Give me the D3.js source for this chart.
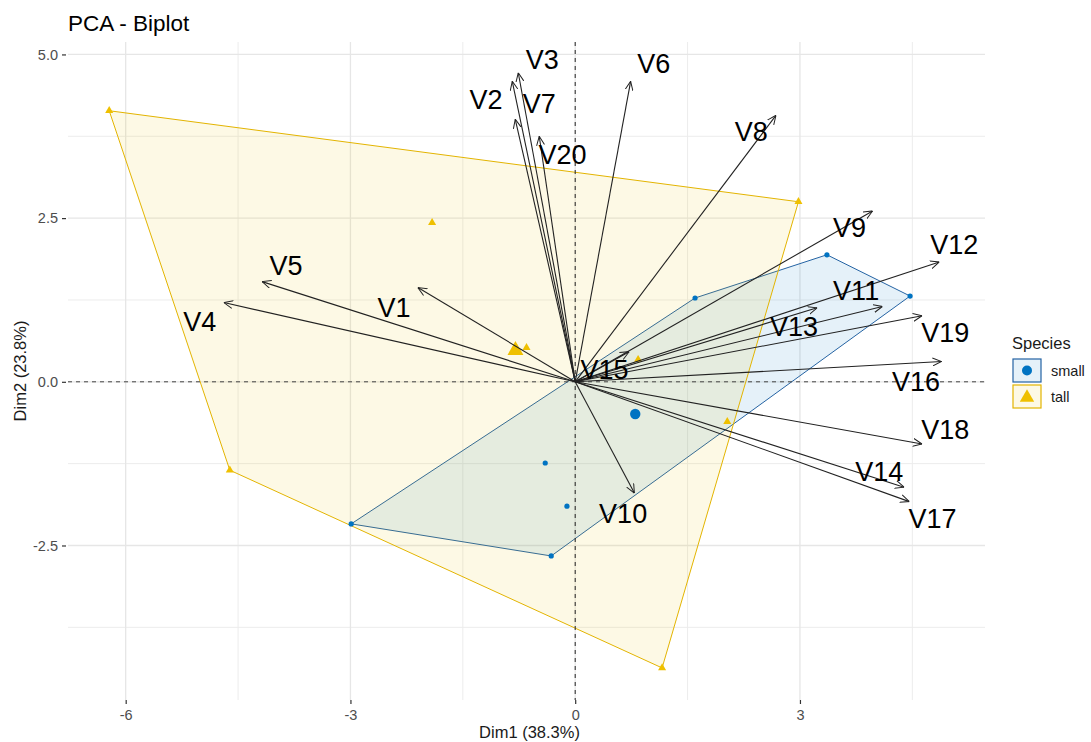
<!doctype html><html><head><meta charset="utf-8"><style>
body { margin: 0; background: #fff; }
text { font-family: "Liberation Sans", Arial, sans-serif; }
</style></head><body><script src='https://d3js.org/d3.v7.min.js'></script>

<script>
// size of the page
const W = 1091, H = 742;

// variables (arrows)
const varNames = ["V1","V2","V3","V4","V5","V6","V7","V8","V9","V10",
                  "V11","V12","V13","V14","V15","V16","V17","V18","V19","V20"];
const varDim1  = [-2.10,-0.84,-0.76,-4.69,-4.18, 0.74,-0.80, 2.68, 3.97, 0.79,
                   4.10, 4.86, 3.23, 4.39, 0.72, 4.89, 4.46, 4.63, 4.63,-0.48];
const varDim2  = [ 1.44, 4.59, 4.72, 1.21, 1.53, 4.59, 4.01, 4.07, 2.61,-1.70,
                   1.15, 1.83, 1.13,-1.61, 0.46, 0.31,-1.83,-0.95, 1.01, 3.75];
// where the labels sit (data units)
const labDim1  = [-2.42,-1.19,-0.44,-5.01,-3.86, 1.05,-0.48, 2.35, 3.66, 0.64,
                   3.75, 5.06, 2.92, 4.06, 0.39, 4.55, 4.77, 4.94, 4.94,-0.17];
const labDim2  = [ 1.13, 4.30, 4.92, 0.92, 1.77, 4.86, 4.25, 3.81, 2.35,-2.02,
                   1.39, 2.09, 0.84,-1.38, 0.18, 0.00,-2.09,-0.73, 0.75, 3.46];

// individuals
const smallDim1 = [3.36, 4.47, 1.60, -2.99, -0.32, -0.40, -0.11];
const smallDim2 = [1.94, 1.31, 1.28, -2.17, -2.66, -1.24, -1.90];
const tallDim1  = [-6.22, 2.98, 1.16, -4.61, -1.91, -0.65, 2.03, 0.84];
const tallDim2  = [ 4.14, 2.75, -4.37, -1.35, 2.43, 0.52, -0.61, 0.34];

const groups   = ["small", "tall"];
const colors   = ["#0073C2", "#EFC000"];
const strokes  = ["#2463a3", "#E3B400"];
const xTicks   = [-6, -3, 0, 3];
const yTicks   = [-2.5, 0, 2.5, 5];
const xMinor   = [-4.5, -1.5, 1.5, 4.5];
const yMinor   = [-3.75, -1.25, 1.25, 3.75];

// panel
const pLeft = 68, pRight = 985, pTop = 42, pBottom = 700;

const x = d3.scaleLinear().domain([-6.77, 5.47]).range([pLeft, pRight]);
const y = d3.scaleLinear().domain([-4.86, 5.19]).range([pBottom, pTop]);

const svg = d3.select("body").append("svg")
              .attr("width", W).attr("height", H);

svg.append("defs").append("marker")
   .attr("id", "arr")
   .attr("viewBox", "0 0 10 10")
   .attr("refX", 10).attr("refY", 5)
   .attr("markerWidth", 9).attr("markerHeight", 9)
   .attr("markerUnits", "userSpaceOnUse")
   .attr("orient", "auto")
   .append("path")
   .attr("d", "M0,0.6 L10,5 L0,9.4")
   .attr("fill", "none")
   .attr("stroke", "#222")
   .attr("stroke-width", 1.1);

// grid
const grid = svg.append("g");
grid.selectAll(".gxm").data(xMinor).join("line")
    .attr("x1", d => x(d)).attr("x2", d => x(d)).attr("y1", pTop).attr("y2", pBottom)
    .attr("stroke", "#ececec").attr("stroke-width", 1);
grid.selectAll(".gym").data(yMinor).join("line")
    .attr("y1", d => y(d)).attr("y2", d => y(d)).attr("x1", pLeft).attr("x2", pRight)
    .attr("stroke", "#ececec").attr("stroke-width", 1);
grid.selectAll(".gx").data(xTicks).join("line")
    .attr("x1", d => x(d)).attr("x2", d => x(d)).attr("y1", pTop).attr("y2", pBottom)
    .attr("stroke", "#e6e6e6").attr("stroke-width", 1.3);
grid.selectAll(".gy").data(yTicks).join("line")
    .attr("y1", d => y(d)).attr("y2", d => y(d)).attr("x1", pLeft).attr("x2", pRight)
    .attr("stroke", "#e6e6e6").attr("stroke-width", 1.3);

// axes (plain hyphen as minus, like the original)
const hy = f => (d => f(d).replace("\u2212", "-"));
const xAxis = svg.append("g")
   .attr("transform", `translate(0,${pBottom})`)
   .call(d3.axisBottom(x).tickValues(xTicks).tickFormat(hy(d3.format("d")))
           .tickSize(4).tickPadding(6));
const yAxis = svg.append("g")
   .attr("transform", `translate(${pLeft - 2},0)`)
   .call(d3.axisLeft(y).tickValues(yTicks).tickFormat(hy(d3.format(".1f")))
           .tickSize(4).tickPadding(4));
[xAxis, yAxis].forEach(a => {
  a.select(".domain").remove();
  a.selectAll(".tick line").attr("stroke", "#333").attr("stroke-width", 1.2);
  a.selectAll(".tick text").attr("fill", "#4d4d4d").style("font-size", "14.5px")
   .style("font-family", "'Liberation Sans', Arial, sans-serif");
});

// groups: hulls, points, means
const sets = [
  {name: groups[0], col: colors[0], line: strokes[0], pts: smallDim1.map((v, i) => [v, smallDim2[i]])},
  {name: groups[1], col: colors[1], line: strokes[1], pts: tallDim1.map((v, i) => [v, tallDim2[i]])}
];

sets.forEach(s => {
  const hull = d3.polygonHull(s.pts.map(p => [x(p[0]), y(p[1])]));
  svg.append("path")
     .attr("d", "M" + hull.join("L") + "Z")
     .attr("fill", s.col).attr("fill-opacity", 0.1)
     .attr("stroke", s.line).attr("stroke-width", 1);
});

// zero lines
svg.append("line")
   .attr("x1", pLeft).attr("x2", pRight).attr("y1", y(0)).attr("y2", y(0))
   .attr("stroke", "#444").attr("stroke-width", 1).attr("stroke-dasharray", "4,4");
svg.append("line")
   .attr("x1", x(0)).attr("x2", x(0)).attr("y1", pTop).attr("y2", pBottom)
   .attr("stroke", "#222").attr("stroke-width", 1).attr("stroke-dasharray", "4,4");

sets.forEach((s, gi) => {
  const mean = [d3.mean(s.pts, p => p[0]), d3.mean(s.pts, p => p[1])];
  if (gi === 0) {
    svg.append("g").selectAll("circle").data(s.pts).join("circle")
       .attr("cx", d => x(d[0])).attr("cy", d => y(d[1])).attr("r", 2.6)
       .attr("fill", s.col);
    svg.append("circle").attr("cx", x(mean[0])).attr("cy", y(mean[1])).attr("r", 5.2)
       .attr("fill", s.col);
  } else {
    const tri = d3.symbol().type(d3.symbolTriangle);
    svg.append("g").selectAll("path").data(s.pts).join("path")
       .attr("d", tri.size(28)())
       .attr("transform", d => `translate(${x(d[0])},${y(d[1])})`)
       .attr("fill", s.col);
    svg.append("path").attr("d", d3.symbol().type(d3.symbolTriangle).size(110)())
       .attr("transform", `translate(${x(mean[0])},${y(mean[1])})`)
       .attr("fill", s.col);
  }
});

// arrows
svg.append("g").selectAll("line").data(varNames).join("line")
   .attr("x1", x(0)).attr("y1", y(0))
   .attr("x2", (d, i) => x(varDim1[i])).attr("y2", (d, i) => y(varDim2[i]))
   .attr("stroke", "#222").attr("stroke-width", 1.1)
   .attr("marker-end", "url(#arr)");

svg.append("g").selectAll("text").data(varNames).join("text")
   .attr("x", (d, i) => x(labDim1[i])).attr("y", (d, i) => y(labDim2[i]))
   .attr("text-anchor", "middle").attr("dominant-baseline", "central")
   .style("font-size", "27px").attr("fill", "#000")
   .text(d => d);

// titles
svg.append("text").attr("x", 68).attr("y", 31)
   .style("font-size", "22.5px").attr("fill", "#000").text("PCA - Biplot");
svg.append("text").attr("x", (pLeft + pRight) / 2 + 3).attr("y", 738)
   .attr("text-anchor", "middle").style("font-size", "16.5px").attr("fill", "#1a1a1a")
   .text("Dim1 (38.3%)");
svg.append("text")
   .attr("transform", `translate(26,${(pTop + pBottom) / 2}) rotate(-90)`)
   .attr("text-anchor", "middle").style("font-size", "16.5px").attr("fill", "#1a1a1a")
   .text("Dim2 (23.8%)");

// legend
const leg = svg.append("g").attr("transform", "translate(1012,0)");
leg.append("text").attr("x", 0).attr("y", 349).style("font-size", "16.5px")
   .attr("fill", "#1a1a1a").text("Species");
sets.forEach((s, i) => {
  const ky = 359 + i * 26;
  leg.append("rect").attr("x", 1).attr("y", ky).attr("width", 28).attr("height", 23)
     .attr("fill", s.col).attr("fill-opacity", 0.1)
     .attr("stroke", s.line).attr("stroke-width", 1.2);
  if (i === 0) {
    leg.append("circle").attr("cx", 15).attr("cy", ky + 11.5).attr("r", 5).attr("fill", s.col);
  } else {
    leg.append("path").attr("d", d3.symbol().type(d3.symbolTriangle).size(90)())
       .attr("transform", `translate(15,${ky + 12.5})`).attr("fill", s.col);
  }
  leg.append("text").attr("x", 39).attr("y", ky + 17).style("font-size", "14.5px")
     .attr("fill", "#1a1a1a").text(s.name);
});
</script></body></html>
